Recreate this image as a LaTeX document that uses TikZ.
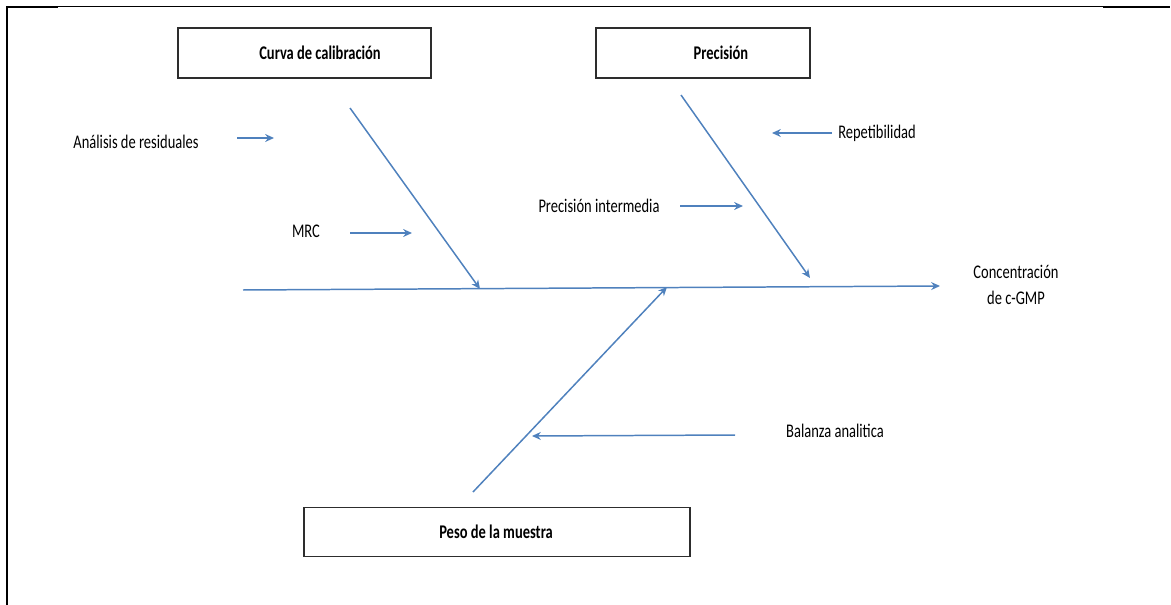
\documentclass[tikz,border=0pt]{standalone}
\usepackage{fontspec}
\setmainfont{Carlito}[FakeStretch=0.75]
\usetikzlibrary{arrows.meta}
\definecolor{boneblue}{RGB}{79,129,189}
\definecolor{boxline}{RGB}{45,45,45}
\begin{document}
\begin{tikzpicture}[x=0.02cm,y=-0.02cm,
  bone/.style={draw=boneblue, line width=0.85pt},
  arr/.style={bone, -{Stealth[length=5pt,width=4.5pt]}},
  causebox/.style={draw=boxline, line width=0.9pt, minimum height=1cm, inner sep=0pt},
  lbl/.style={font=\fontsize{11}{15}\selectfont, inner sep=0pt, align=center},
  blbl/.style={font=\fontsize{11}{12}\selectfont\bfseries, inner sep=0pt},
  frame/.style={draw=black, line width=0.6pt},
  framethick/.style={draw=black, line width=1.3pt}]
\useasboundingbox (0,0) rectangle (1171,605);
% frame
\draw[frame] (6,6.5) -- (1170,6.5);
\draw[framethick] (6,7) -- (58,7);
\draw[framethick] (1103,7) -- (1170,7);
\draw[framethick] (7,6) -- (7,605);
% boxes
\node[causebox, minimum width=5.06cm] (bcurva) at (304.5,53) {};
\node[blbl] (tcurva) at (320,53) {Curva de calibración};
\node[causebox, minimum width=4.28cm] (bprec) at (703,53) {};
\node[blbl] (tprec) at (721,53) {Precisión};
\node[causebox, minimum width=7.72cm, minimum height=0.98cm] (bpeso) at (497,532) {};
\node[blbl] (tpeso) at (496,532) {Peso de la muestra};
% labels
\node[lbl] (lanal) at (136,142) {Análisis de residuales};
\node[lbl] (lmrc) at (306,231) {MRC};
\node[lbl] (lpint) at (599,206) {Precisión intermedia};
\node[lbl] (lrep) at (877,133) {Repetibilidad};
\node[lbl] (lconc) at (1016,285) {Concentración\\de c-GMP};
\node[lbl] (lbal) at (835,431) {Balanza analitica};
% coordinates
\coordinate (s0) at (243,290);
\coordinate (s1) at (940,286);
\coordinate (c0) at (350,108);
\coordinate (c1) at (480,289);
\coordinate (p0) at (681,95);
\coordinate (p1) at (810,278);
\coordinate (w0) at (473,492);
\coordinate (w1) at (667,287);
\coordinate (a0) at (237,138);
\coordinate (a1) at (274,138);
\coordinate (m0) at (350,233);
\coordinate (m1) at (412,233);
\coordinate (i0) at (680,206);
\coordinate (i1) at (743,206);
\coordinate (r0) at (832,133);
\coordinate (r1) at (772,133);
\coordinate (b0) at (735,435);
\coordinate (b1) at (532,436);
% bones
\draw[arr] (s0) -- (s1);
\draw[arr] (c0) -- (c1);
\draw[arr] (p0) -- (p1);
\draw[arr] (w0) -- (w1);
\draw[arr] (a0) -- (a1);
\draw[arr] (m0) -- (m1);
\draw[arr] (i0) -- (i1);
\draw[arr] (r0) -- (r1);
\draw[arr] (b0) -- (b1);
\end{tikzpicture}
\end{document}
